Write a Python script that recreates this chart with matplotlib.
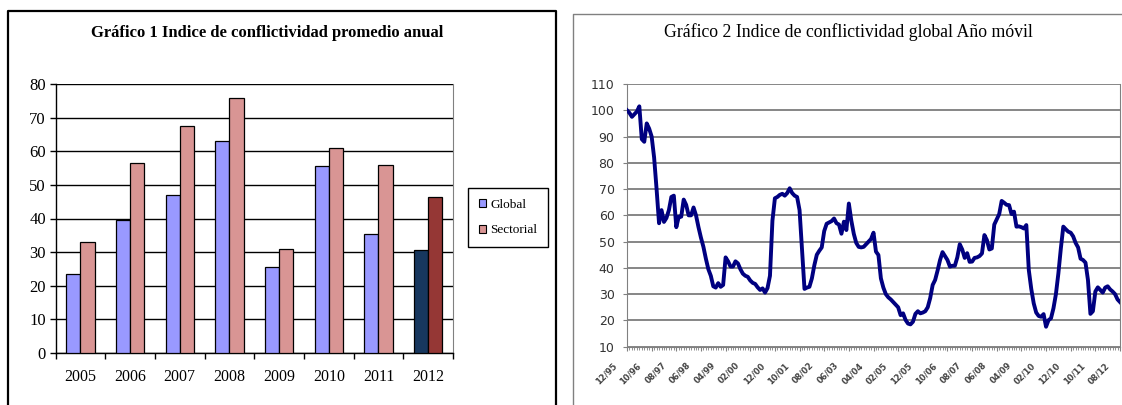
#!/usr/bin/env python3
"""Indice de conflictividad: promedio anual (barras) y año móvil (línea)."""
import numpy as np
import matplotlib
matplotlib.use("Agg")
import matplotlib.pyplot as plt
import matplotlib.transforms as mtransforms
from matplotlib.lines import Line2D
from matplotlib.patches import Patch

years = ["2005", "2006", "2007", "2008", "2009", "2010", "2011", "2012"]
global_vals = [23.5, 39.5, 47.0, 63.0, 25.5, 55.5, 35.5, 30.5]
sect_vals = [33.0, 56.5, 67.5, 76.0, 31.0, 61.0, 56.0, 46.5]

# monthly moving-year index, 12/95 .. 08/12
idx_vals = [
    100, 99, 97.5, 98.5, 99.5, 101.5, 89, 88, 95, 93,
    90, 82, 70, 57, 62, 57.5, 59, 62, 67, 67.5,
    55.5, 59.5, 59.5, 66, 64, 60, 60, 63, 60, 55.5,
    51.5, 48, 43.5, 39.5, 37, 33, 32.5, 34.2, 32.8, 33.5,
    44, 42.5, 40.5, 40.5, 42.5, 41.7, 39.5, 37.8, 37, 36.6,
    35.2, 34.3, 33.9, 32.6, 31.6, 32.2, 30.6, 32.3, 37, 58,
    66.5, 67, 67.8, 68.2, 67.5, 68.5, 70.3, 68.5, 67.5, 67,
    62, 47, 32, 32.5, 32.8, 36, 41, 45, 46.5, 47.8,
    54, 56.8, 57.3, 57.8, 58.8, 57, 56.5, 53, 57.6, 54.4,
    64.5, 58, 53, 49.5, 48, 47.8, 48, 49, 50, 51,
    53.4, 46.2, 44.9, 36, 32.5, 30, 28.8, 28, 27, 26,
    25, 22, 22.7, 20.2, 18.8, 18.5, 19.5, 22.5, 23.5, 22.7,
    23, 23.5, 25, 28.5, 33.5, 35.4, 39, 43, 46, 44.5,
    43, 40.5, 40.8, 40.8, 44, 49, 47, 43.8, 45.6, 42.3,
    42.4, 43.8, 44, 44.5, 45.5, 52.5, 50.6, 47, 47.4, 56.5,
    58.5, 60.5, 65.5, 64.8, 64, 63.9, 60.5, 61.4, 55.7, 55.8,
    55.5, 55, 56.3, 39.2, 32, 26.5, 23, 21.7, 21.4, 22.4,
    17.6, 20.1, 20.8, 24.6, 30, 37.9, 47.4, 55.7, 54.7, 53.8,
    53.4, 52, 49.5, 47.8, 43.5, 43, 42, 35.4, 22.5, 23.5,
    31, 32.6, 31.6, 30.6, 32.5, 33, 31.8, 31, 30, 28,
    27,
]
month_labels = ["12/95", "10/96", "08/97", "06/98", "04/99", "02/00", "12/00",
                "10/01", "08/02", "06/03", "04/04", "02/05", "12/05", "10/06",
                "08/07", "06/08", "04/09", "02/10", "12/10", "10/11", "08/12"]

W, H = 1122, 405
fig = plt.figure(figsize=(W / 100, H / 100), dpi=100)


def fx(px):
    return px / W


def fy(py):
    return 1 - py / H


serif = "Liberation Serif"

# panel frames
fig.add_artist(Line2D([fx(8), fx(8), fx(556), fx(556)], [0, fy(11), fy(11), 0],
                      color="black", lw=1.6, transform=fig.transFigure))
fig.add_artist(Line2D([fx(573), fx(573), 1.0], [0, fy(14), fy(14)],
                      color="#808080", lw=1.0, transform=fig.transFigure))

# ── Gráfico 1: bars ──────────────────────────────────────────────────────────
ax1 = fig.add_axes([fx(55.5), fy(352.7), fx(453) - fx(55.5), fy(84.3) - fy(352.7)])
x = np.arange(len(years))
w = 0.286
g_cols = ["#9999FF"] * (len(years) - 1) + ["#17375E"]
s_cols = ["#D99594"] * (len(years) - 1) + ["#953735"]
ax1.bar(x - w / 2, global_vals, w, color=g_cols, edgecolor="black", linewidth=0.9, zorder=3)
ax1.bar(x + w / 2, sect_vals, w, color=s_cols, edgecolor="black", linewidth=0.9, zorder=3)
ax1.set_xlim(-0.5, len(years) - 0.5)
ax1.set_ylim(0, 80)
ax1.set_yticks(range(0, 81, 10))
ax1.yaxis.grid(True, color="black", lw=1.0, zorder=0)
ax1.set_axisbelow(True)
ax1.set_xticks(np.arange(-0.5, len(years), 1))
ax1.set_xticklabels([])
ax1.set_xticks(x, minor=True)
ax1.set_xticklabels(years, minor=True)
ax1.tick_params(axis="x", which="major", direction="out", length=4, width=1)
ax1.tick_params(axis="x", which="minor", length=0, pad=12, labelsize=11.5)
ax1.tick_params(axis="y", direction="out", length=4, width=1, labelsize=12, pad=3)
for lab in ax1.get_xticklabels(minor=True) + ax1.get_yticklabels():
    lab.set_fontfamily(serif)
ax1.spines["top"].set_visible(False)
ax1.spines["right"].set_color("#808080")
ax1.spines["left"].set_linewidth(1.0)
ax1.spines["bottom"].set_linewidth(1.0)

fig.text(fx(267), fy(33), "Gráfico 1 Indice de conflictividad promedio anual",
         ha="center", va="center", fontsize=12, fontweight="bold", family=serif)

handles = [Patch(facecolor="#9999FF", edgecolor="black", lw=0.8, label="Global"),
           Patch(facecolor="#D99594", edgecolor="black", lw=0.8, label="Sectorial")]
leg = fig.legend(handles=handles, loc="upper left", bbox_to_anchor=(fx(468), fy(188)),
                 frameon=True, fancybox=False, edgecolor="black", framealpha=1,
                 prop={"family": serif, "size": 9.5}, handlelength=0.6, handleheight=0.6,
                 handletextpad=0.3, labelspacing=1.05, borderpad=0.8, borderaxespad=0)
leg.get_frame().set_linewidth(1.0)

# ── Gráfico 2: line ──────────────────────────────────────────────────────────
ax2 = fig.add_axes([fx(627), fy(346.7), fx(1120) - fx(627), fy(84) - fy(346.7)])
t = np.arange(len(idx_vals))
ax2.plot(t, idx_vals, color="#000080", lw=2.8, solid_joinstyle="round", zorder=3)
ax2.set_xlim(0, len(idx_vals) - 1)
ax2.set_ylim(10, 110)
ax2.set_yticks(range(10, 111, 10))
ax2.yaxis.grid(True, color="#666666", lw=1.1, zorder=0)
ax2.set_axisbelow(True)
ax2.set_xticks(np.arange(0, len(month_labels) * 10, 10))
ax2.set_xticklabels(month_labels, rotation=45, ha="right", va="top",
                    rotation_mode="anchor", fontsize=6, fontweight="bold", color="#444444")
ax2.set_xticks(t, minor=True)
ax2.tick_params(axis="x", which="major", length=3, color="#808080", pad=2)
ax2.tick_params(axis="x", which="minor", length=2, color="#808080")
ax2.tick_params(axis="y", direction="out", length=3, color="#808080",
                labelsize=9, labelcolor="#333333", pad=6)
shift = mtransforms.ScaledTranslation(-0.15, -0.07, fig.dpi_scale_trans)
for lab in ax2.get_xticklabels():
    lab.set_transform(lab.get_transform() + shift)
for sp in ax2.spines.values():
    sp.set_color("#808080")
ax2.spines["top"].set_visible(False)

fig.text(fx(848), fy(32), "Gráfico 2 Indice de conflictividad global Año móvil",
         ha="center", va="center", fontsize=12.8, family=serif)

plt.savefig("out.png", dpi=100)
